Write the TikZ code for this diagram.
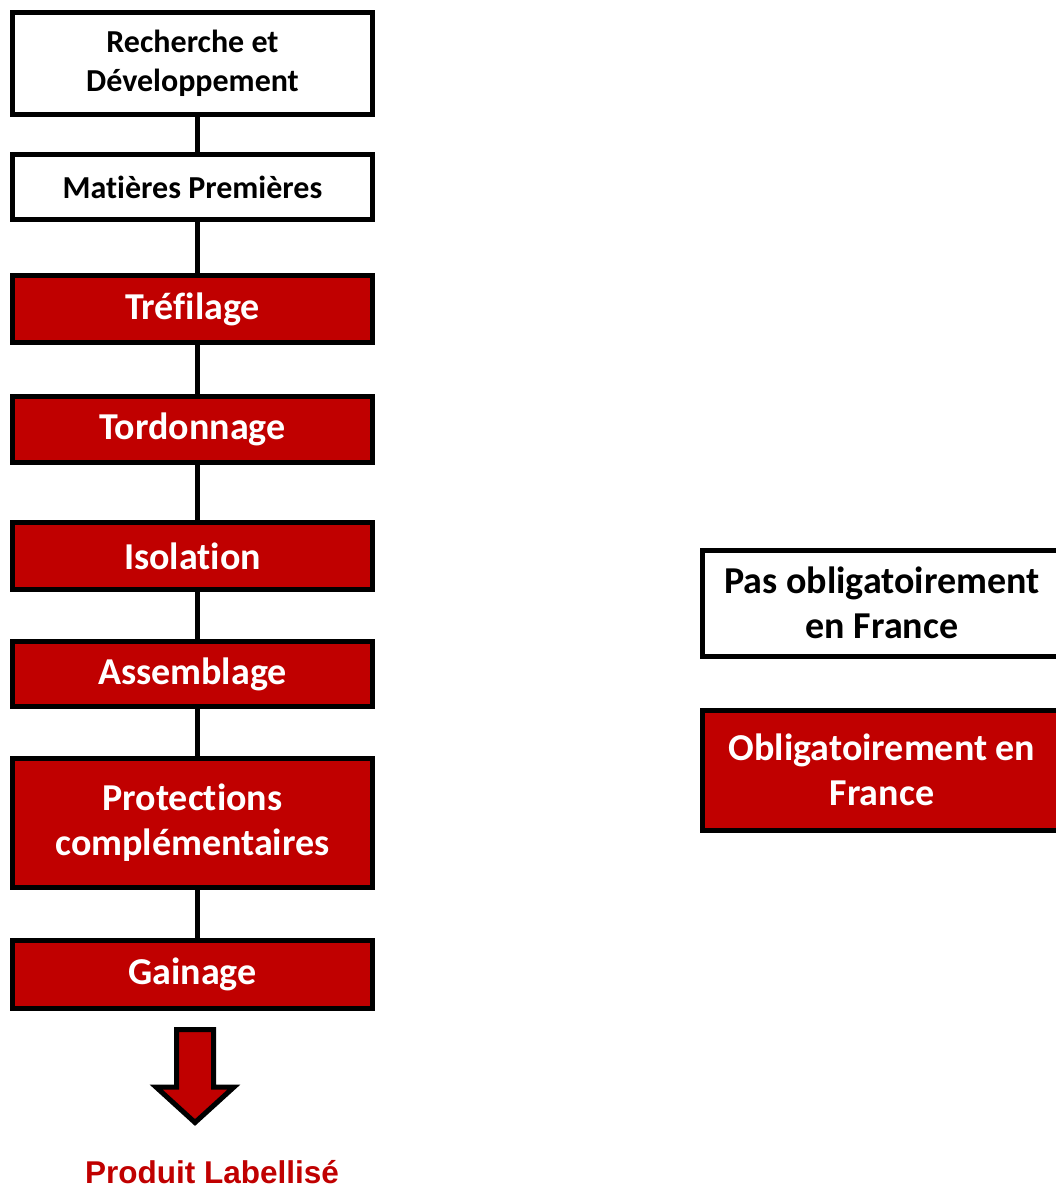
\documentclass[tikz,border=0pt]{standalone}
\usepackage{fontspec}
\setmainfont[Ligatures={NoCommon}]{Carlito}
\newfontfamily\arialfont{Liberation Sans}
\definecolor{darkred}{RGB}{192,0,0}
\tikzset{
	box/.style={draw, line width=5pt, minimum width=360pt, inner sep=0pt, align=center},
	optional/.style={box, fill=white, text=black},
	mandatory/.style={box, fill=darkred, text=white},
	link/.style={line width=5pt}
}
\begin{document}
\begin{tikzpicture}[x=1pt, y=-1pt]
	\useasboundingbox (0,0) rectangle (1056,1189);
	% column parameters
	\def\xmid {192.5};
	\def\small {\bfseries\fontsize{32}{39}\selectfont};
	\def\big {\bfseries\fontsize{38}{45}\selectfont};
	% steps: label / y centre / height / kind / font
	\foreach \label/\ypos/\height/\kind/\size [count=\index] in
		{ {Recherche et\\Développement}/63.5/102/optional/\small
		, {Matières Premières}/187/65/optional/\small
		, {Tréfilage}/309/67/mandatory/\big
		, {Tordonnage}/429.5/66/mandatory/\big
		, {Isolation}/556/67/mandatory/\big
		, {Assemblage}/674/65/mandatory/\big
		, {Protections\\complémentaires}/823/129/mandatory/\big
		, {Gainage}/974.5/68/mandatory/\big
		}
	{
		\node[\kind, minimum height=\height, font=\size] (s_\index) at (\xmid, \ypos) {\label};
	}
	% links between steps
	\foreach \i [evaluate=\i as \j using int(\i+1)] in {1,...,7}
	{
		\draw[link] ([xshift=4.5]s_\i.south) -- ([xshift=4.5]s_\j.north);
	}
	% final arrow and product
	\draw[line width=5pt, fill=darkred, miter limit=10]
		(176.5,1029.5) -- (213.5,1029.5) -- (213.5,1087) -- (234,1087)
		-- (195,1122.5) -- (156,1087) -- (176.5,1087) -- cycle;
	\node[anchor=base, text=darkred, font=\arialfont\bfseries\fontsize{31.5}{36}\selectfont]
		(product) at (212,1183) {Produit Labellisé};
	% legend
	\node[optional, minimum height=106, font=\big] (legend_1) at (882,603)
		{Pas obligatoirement\\en France};
	\node[mandatory, minimum height=120, font=\big] (legend_2) at (882,770)
		{Obligatoirement en\\France};
\end{tikzpicture}
\end{document}
